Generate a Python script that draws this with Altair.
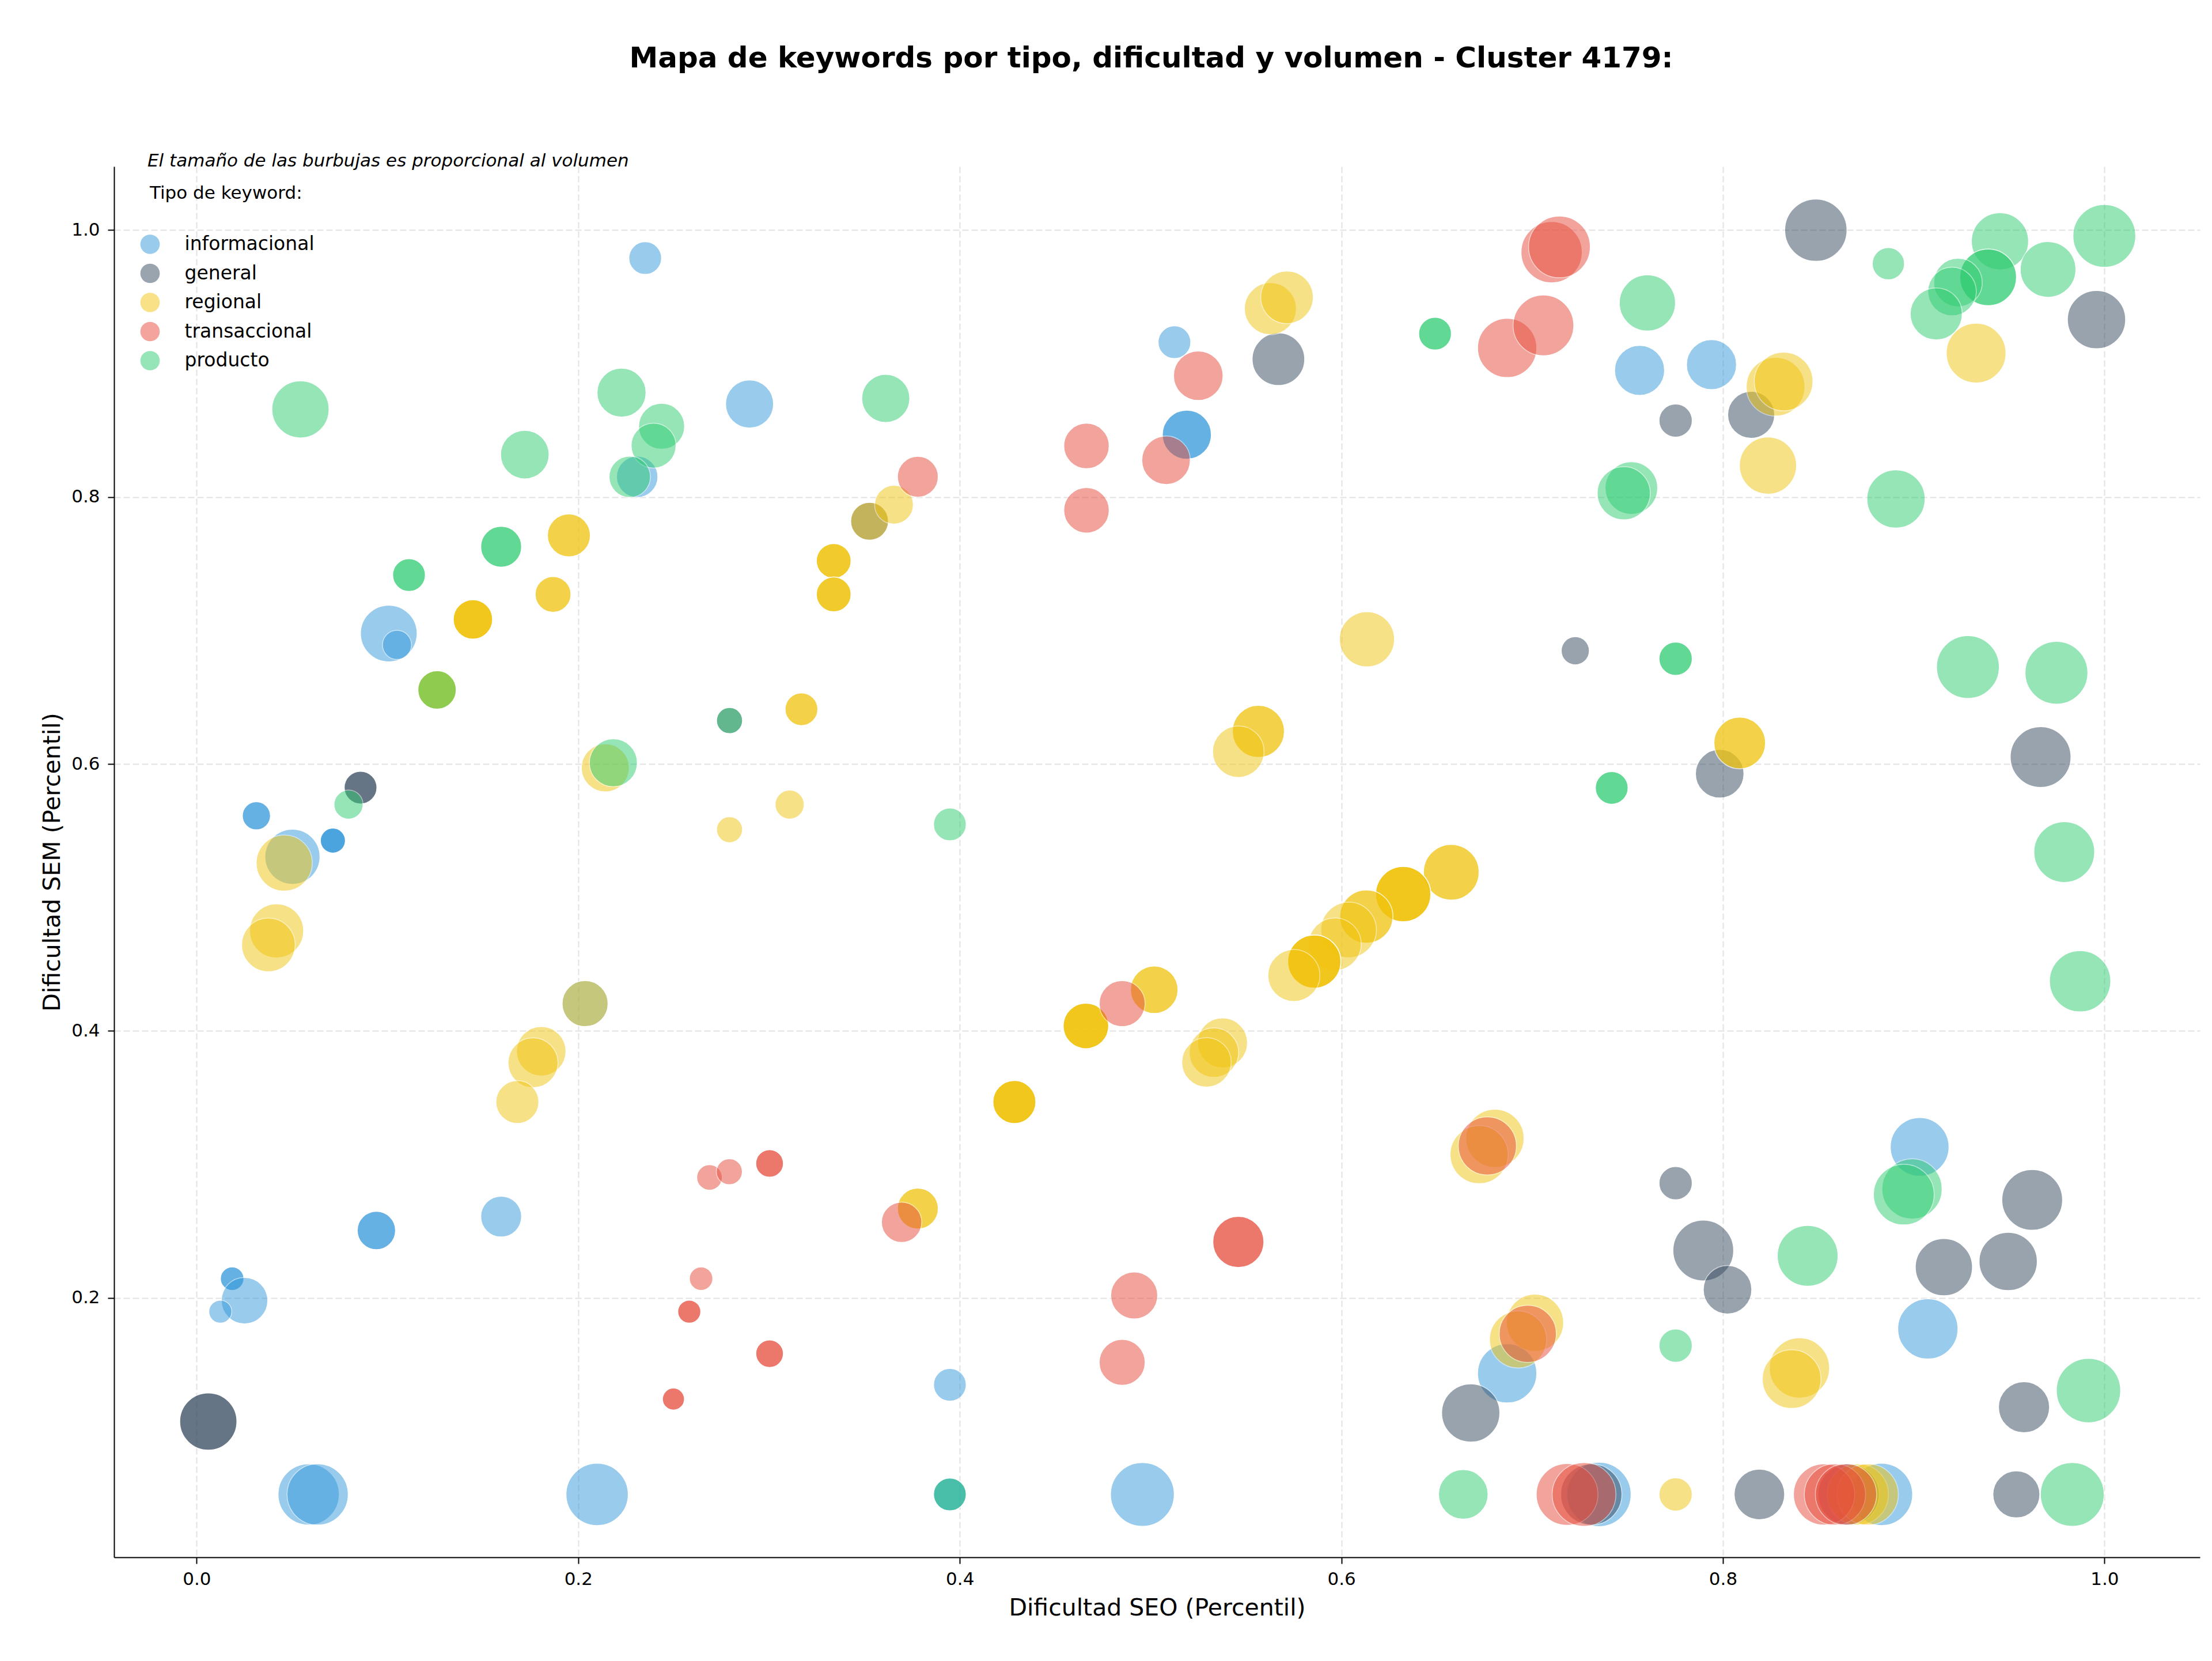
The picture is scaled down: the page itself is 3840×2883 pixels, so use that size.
import altair as alt
import pandas as pd

TITLE = "Mapa de keywords por tipo, dificultad y volumen - Cluster 4179:"
NOTE = "El tamaño de las burbujas es proporcional al volumen"
LEGEND_TITLE = "Tipo de keyword:"
X_TITLE = "Dificultad SEO (Percentil)"
Y_TITLE = "Dificultad SEM (Percentil)"

TIPOS = ["informacional", "general", "regional", "transaccional", "producto"]
COLORES = ["#3498db", "#34495e", "#f1c40f", "#e74c3c", "#2ecc71"]
X_TICKS = [0.0, 0.2, 0.4, 0.6, 0.8, 1.0]
Y_TICKS = [0.2, 0.4, 0.6, 0.8, 1.0]

# informacional
info_x = [0.2351, 0.2898, 0.2309, 0.1007, 0.1050, 0.0313, 0.0714, 0.0502, 0.0942, 0.1596,
          0.0186, 0.0251, 0.0124, 0.0587, 0.0634, 0.2099, 0.3948, 0.3948, 0.4957, 0.5125,
          0.5190, 0.7563, 0.7940, 0.9031, 0.9074, 0.6869, 0.7350, 0.8831, 0.2036]
info_y = [0.9789, 0.8696, 0.8151, 0.6977, 0.6892, 0.5612, 0.5426, 0.5305, 0.2506, 0.2610,
          0.2145, 0.1980, 0.1898, 0.0529, 0.0529, 0.0529, 0.1350, 0.0529, 0.0529, 0.9159,
          0.8466, 0.8948, 0.8991, 0.3132, 0.1769, 0.1436, 0.0529, 0.0529, 0.4205]
info_vol = [410, 884, 656, 1232, 325, 303, 240, 1166, 563, 640,
            212, 828, 203, 1440, 1440, 1488, 410, 410, 1563, 410,
            922, 960, 960, 1323, 1392, 1346, 1588, 1488, 810]
info_n = [1, 1, 1, 1, 1, 2, 3, 1, 2, 1,
          2, 1, 1, 1, 1, 1, 1, 2, 1, 1,
          2, 1, 1, 1, 1, 1, 1, 1, 1]

# general
gen_x = [0.0859, 0.0061, 0.2793, 0.3527, 0.5670, 0.7752, 0.8148, 0.8487, 0.9958,
         0.7226, 0.7983, 0.9665, 0.7752, 0.7897, 0.8024, 0.9621, 0.9158, 0.9495, 0.9578,
         0.6678, 0.7310, 0.8191, 0.8659, 0.9538]
gen_y = [0.5823, 0.1075, 0.6325, 0.7818, 0.9032, 0.8572, 0.8615, 0.9998, 0.9328,
         0.6848, 0.5927, 0.6052, 0.2860, 0.2356, 0.2062, 0.2735, 0.2231, 0.2274, 0.1182,
         0.1139, 0.0529, 0.0529, 0.0529, 0.0529]
gen_vol = [410, 1254, 260, 548, 1061, 423, 846, 1488, 1300,
           303, 903, 1416, 423, 1416, 903, 1416, 1254, 1300, 1000,
           1300, 1440, 980, 1440, 846]
gen_n = [2, 2, 1, 1, 1, 1, 1, 1, 1,
         1, 1, 1, 1, 1, 1, 1, 1, 1, 1,
         1, 1, 1, 1, 1]

# regional
reg_x = [0.1951, 0.1868, 0.1448, 0.1260, 0.3170, 0.3108, 0.2793, 0.3339, 0.3339,
         0.3527, 0.3655, 0.2142, 0.0459, 0.0419, 0.0376, 0.2036, 0.1806, 0.1763, 0.1681,
         0.5628, 0.5715, 0.8276, 0.8318, 0.8236, 0.9327, 0.6134, 0.5565, 0.5460, 0.8088,
         0.6576, 0.6324, 0.6131, 0.6038, 0.5966, 0.5858, 0.5751, 0.5019, 0.4661, 0.5377,
         0.5332, 0.5293, 0.4286, 0.3780, 0.6805, 0.6722, 0.7015, 0.6926, 0.8401, 0.8360,
         0.7752, 0.8707, 0.8759]
reg_y = [0.7712, 0.7270, 0.7083, 0.6555, 0.6410, 0.5696, 0.5508, 0.7521, 0.7270,
         0.7818, 0.7942, 0.5971, 0.5258, 0.4750, 0.4645, 0.4205, 0.3848, 0.3762, 0.3468,
         0.9410, 0.9495, 0.8826, 0.8865, 0.8235, 0.9077, 0.6934, 0.6244, 0.6092, 0.6157,
         0.5189, 0.5025, 0.4857, 0.4757, 0.4650, 0.4520, 0.4416, 0.4309, 0.4038, 0.3911,
         0.3838, 0.3765, 0.3468, 0.2670, 0.3196, 0.3074, 0.1815, 0.1690, 0.1476, 0.1393,
         0.0529, 0.0529, 0.0529]
reg_vol = [706, 490, 593, 563, 410, 325, 260, 462, 462,
           548, 578, 884, 1210, 1124, 1103, 810, 941, 960, 706,
           1040, 1061, 1323, 1323, 1254, 1369, 1166, 1040, 1020, 1020,
           1188, 1166, 1082, 1188, 1061, 1082, 1040, 865, 792, 960,
           941, 941, 706, 640, 1300, 1300, 1254, 1254, 1392, 1323,
           423, 1440, 1440]
reg_n = [2, 2, 4, 3, 2, 1, 1, 3, 3,
         1, 1, 1, 1, 1, 1, 1, 1, 1, 1,
         1, 1, 1, 1, 1, 1, 1, 2, 1, 2,
         2, 4, 2, 1, 1, 4, 1, 2, 4, 1,
         1, 1, 4, 2, 1, 1, 1, 1, 1, 1,
         1, 1, 1]

# transaccional
tra_x = [0.3780, 0.4664, 0.4664, 0.5250, 0.5081, 0.6869, 0.7059, 0.7102, 0.7143, 0.2688,
         0.2792, 0.3003, 0.2644, 0.2582, 0.3003, 0.2499, 0.4851, 0.3695, 0.5460, 0.4914,
         0.4851, 0.6765, 0.6977, 0.7183, 0.7272, 0.8530, 0.8587, 0.8645]
tra_y = [0.8151, 0.8382, 0.7900, 0.8908, 0.8275, 0.9116, 0.9285, 0.9833, 0.9873, 0.2903,
         0.2946, 0.3008, 0.2145, 0.1898, 0.1583, 0.1243, 0.4205, 0.2567, 0.2420, 0.2019,
         0.1518, 0.3139, 0.1732, 0.0529, 0.0529, 0.0529, 0.0529, 0.0529]
tra_vol = [640, 792, 792, 941, 903, 1346, 1416, 1440, 1464, 250,
           260, 292, 212, 203, 292, 185, 810, 624, 1000, 846,
           810, 1300, 1254, 1464, 1563, 1440, 1440, 1440]
tra_n = [1, 1, 1, 1, 1, 1, 1, 1, 1, 1,
         1, 2, 1, 2, 2, 2, 1, 1, 2, 1,
         1, 1, 1, 1, 1, 1, 1, 1]

# producto
pro_x = [0.0544, 0.2227, 0.2437, 0.2395, 0.2270, 0.1720, 0.1596, 0.1113, 0.1260, 0.0796,
         0.2184, 0.2793, 0.3612, 0.3948, 0.3948, 0.6491, 0.7604, 0.7520, 0.7480, 0.8867,
         0.9452, 0.9999, 0.9704, 0.9390, 0.9232, 0.9201, 0.9118, 0.8907, 0.7752, 0.9284,
         0.9748, 0.7417, 0.9789, 0.9872, 0.8991, 0.8948, 0.8444, 0.7752, 0.9916, 0.6639,
         0.9831]
pro_y = [0.8656, 0.8781, 0.8529, 0.8384, 0.8151, 0.8317, 0.7627, 0.7415, 0.6555, 0.5696,
         0.6009, 0.6325, 0.8738, 0.5547, 0.0529, 0.9223, 0.9453, 0.8067, 0.8028, 0.9747,
         0.9915, 0.9955, 0.9704, 0.9645, 0.9606, 0.9539, 0.9371, 0.7985, 0.6788, 0.6726,
         0.6683, 0.5821, 0.5340, 0.4373, 0.2817, 0.2775, 0.2316, 0.1643, 0.1307, 0.0529,
         0.0529]
pro_vol = [1254, 922, 810, 774, 656, 903, 640, 410, 563, 325,
           884, 260, 884, 410, 410, 410, 1210, 1061, 1082, 397,
           1254, 1513, 1188, 1232, 903, 903, 1040, 1300, 423, 1513,
           1513, 410, 1416, 1440, 1392, 1416, 1416, 423, 1588, 941,
           1563]
pro_n = [1, 1, 1, 1, 1, 1, 2, 2, 1, 1,
         1, 1, 1, 1, 1, 2, 1, 1, 1, 1,
         1, 1, 1, 2, 1, 1, 1, 1, 2, 1,
         1, 2, 1, 1, 1, 1, 1, 1, 1, 1,
         1]

series = [
    ("informacional", info_x, info_y, info_vol, info_n),
    ("general", gen_x, gen_y, gen_vol, gen_n),
    ("regional", reg_x, reg_y, reg_vol, reg_n),
    ("transaccional", tra_x, tra_y, tra_vol, tra_n),
    ("producto", pro_x, pro_y, pro_vol, pro_n),
]

rows = []
for tipo, xs, ys, vs, ns in series:
    for x, y, v, n in zip(xs, ys, vs, ns):
        for _ in range(n):
            rows.append({"tipo": tipo, "seo": x, "sem": y, "volumen": v})
df = pd.DataFrame(rows)
df["orden"] = range(len(df))

W, H = 3621, 2414
FONT = "DejaVu Sans"

points = alt.Chart(df).mark_circle(
    opacity=0.5, stroke="white", strokeWidth=1.5
).encode(
    x=alt.X(
        "seo:Q",
        scale=alt.Scale(domain=[-0.0433, 1.05], nice=False, zero=False),
        axis=alt.Axis(
            values=X_TICKS, format=".1f", title=X_TITLE,
            labelPadding=12, titleY=100, titleBaseline="alphabetic",
        ),
    ),
    y=alt.Y(
        "sem:Q",
        scale=alt.Scale(domain=[0.0058, 1.0475], nice=False, zero=False),
        axis=alt.Axis(
            values=Y_TICKS, format=".1f", title=Y_TITLE,
            labelPadding=14, titleX=-95, titleY=H / 2, titleAngle=270,
            titleBaseline="alphabetic", titleAlign="center",
        ),
    ),
    size=alt.Size(
        "volumen:Q",
        scale=alt.Scale(type="linear", domain=[0, 1600], range=[0, 12566]),
        legend=None,
    ),
    color=alt.Color(
        "tipo:N",
        scale=alt.Scale(domain=TIPOS, range=COLORES),
        legend=alt.Legend(
            title=None, orient="none", legendX=45.5, legendY=118,
            symbolSize=1134, symbolType="circle", symbolOpacity=0.5,
            symbolStrokeWidth=0, labelFontSize=33, labelFont=FONT,
            labelColor="black", labelOffset=43, labelLimit=800,
            rowPadding=16.5, padding=0,
        ),
    ),
    order=alt.Order("orden:Q"),
)

note = alt.Chart(pd.DataFrame({"t": [NOTE]})).mark_text(
    align="left", baseline="alphabetic", fontStyle="italic",
    fontSize=31, font=FONT, color="black",
).encode(x=alt.value(58), y=alt.value(0), text="t:N")

legend_title = alt.Chart(pd.DataFrame({"t": [LEGEND_TITLE]})).mark_text(
    align="left", baseline="alphabetic", fontSize=31, font=FONT, color="black",
).encode(x=alt.value(62), y=alt.value(56), text="t:N")

chart = alt.layer(points, note, legend_title).properties(
    width=W,
    height=H,
    autosize=alt.AutoSizeParams(type="none"),
    padding={"left": 198, "top": 289, "right": 21, "bottom": 180},
    title=alt.Title(
        TITLE, fontSize=50, font=FONT, fontWeight="bold", color="black",
        anchor="middle", frame="group", baseline="alphabetic", offset=97, dx=-10,
    ),
).configure_view(
    stroke=None
).configure_axis(
    domainColor="black", domainWidth=2, tickColor="black", tickWidth=2, tickSize=11,
    labelFontSize=31, labelFont=FONT, labelColor="black",
    titleFont=FONT, titleFontSize=41, titleFontWeight="normal", titleColor="black",
    gridColor="#e2e2e2", gridDash=[11, 5], gridWidth=2,
)

chart.save("out.html", embed_options={"renderer": "svg", "actions": False})
